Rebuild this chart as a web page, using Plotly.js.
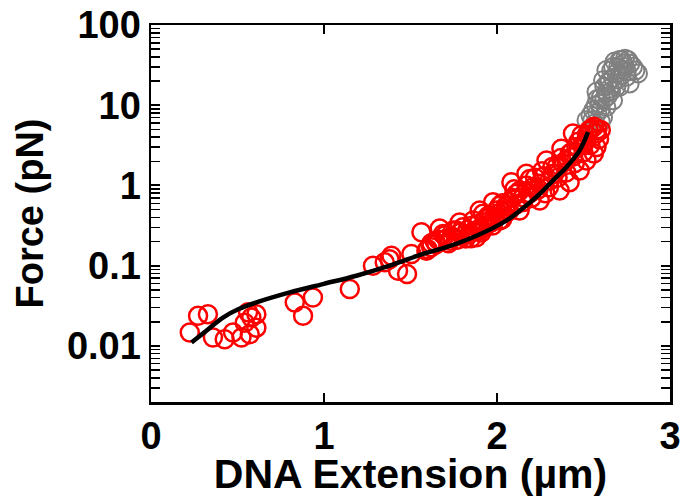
<!DOCTYPE html>
<html>
<head>
<meta charset="utf-8">
<script src="https://cdn.plot.ly/plotly-3.0.1.min.js"></script>
<style>html,body{margin:0;padding:0;background:#fff;}#chart{width:683px;height:497px;}</style>
</head>
<body>
<div id="chart"></div>
<script>
// Red measured points (DNA extension in µm, force in pN)
const redX = [0.224,0.272,0.329,0.358,0.426,0.474,0.523,0.571,0.580,0.561,0.609,0.542,0.609,0.831,0.936,0.879,1.149,
  1.283,1.351,1.390,1.428,1.480,1.505,1.563,1.592,1.650,1.688,1.727,1.765,1.803,1.842,1.881,1.919,1.958,1.996,
  1.379,1.669,1.709,1.784,1.819,1.860,1.900,1.935,1.975,2.015,1.619,1.640,
  1.900,1.977,2.083,2.170,2.286,2.372,2.439,2.546,2.575,2.517,2.478,2.420,2.362,2.247,2.131,2.015,1.900,
  2.054,2.150,2.247,2.324,2.401,2.459,2.517,2.112,2.208,2.305,2.343,2.420,2.488,2.575,1.958,1.862,1.746,
  2.030,2.070,2.100,2.190,2.260,2.380,2.440,2.500,2.530,2.560,2.600,2.190,2.280,
  1.600,1.620,1.660,1.700,1.720,1.740,1.770,1.790,1.810,1.830,1.850,1.870,1.890,1.910,1.930,1.950,1.970,1.990,
  2.010,2.030,2.050,2.070,2.090,2.110,2.130,2.150,2.170,2.200,2.220,2.240,2.270,2.300,2.320,2.350,2.370,2.400,
  2.430,2.450,2.470,2.500,2.520,2.540,2.580,2.590,2.560];
const redY = [0.0147,0.0237,0.0249,0.0127,0.0121,0.0147,0.0127,0.014,0.0226,0.0263,0.0249,0.0195,0.0169,0.0348,0.0402,0.0237,0.0512,
  0.100,0.110,0.133,0.0866,0.0787,0.140,0.261,0.154,0.187,0.249,0.205,0.274,0.301,0.249,0.226,0.443,0.365,0.487,
  0.120,0.290,0.218,0.345,0.218,0.316,0.290,0.387,0.316,0.560,0.170,0.200,
  0.487,0.618,1.10,1.40,2.05,2.87,4.43,5.10,3.01,2.05,1.54,1.10,0.866,0.650,0.487,0.365,0.274,
  0.487,0.714,1.05,1.40,2.05,3.01,3.65,0.787,0.953,1.155,1.69,2.49,4.22,4.43,0.402,0.365,0.274,
  0.600,0.620,0.900,1.20,1.50,1.90,2.30,3.20,4.80,5.40,4.90,0.800,0.800,
  0.160,0.190,0.210,0.240,0.190,0.230,0.210,0.260,0.240,0.280,0.220,0.270,0.330,0.260,0.300,0.420,0.350,0.400,
  0.450,0.380,0.550,0.480,0.700,0.580,0.850,0.620,1.00,0.700,1.25,0.900,1.30,0.950,1.70,1.25,2.20,1.45,
  2.60,1.90,3.50,2.60,4.30,3.20,5.00,3.80,2.50];

// Gray points at high force
const grayX = [2.517,2.555,2.594,2.575,2.632,2.651,2.671,2.709,2.757,2.786,2.815,2.748,2.709,2.671,2.632,2.613,2.565,
  2.690,2.728,2.632,2.613,2.767,2.730,2.690,2.650,2.600,2.580,2.740,
  2.540,2.570,2.600,2.620,2.640,2.660,2.620,2.670,2.700,2.720,2.750,2.770,2.700,2.680,2.800,2.740,2.720,2.660,2.640,2.580,2.550,2.600];
const grayY = [6.5,8.66,10.5,14.7,14.0,20.5,30.1,36.5,36.5,30.1,24.9,22.6,17.0,11.5,9.5,7.1,5.9,
  17.0,27.4,27.4,20.5,18.7,33.0,25.0,16.0,12.5,8.0,30.0,
  7.5,10.0,9.0,12.0,13.0,15.0,17.0,22.0,21.0,24.0,26.0,33.0,30.0,35.0,27.0,38.0,37.0,27.0,19.0,12.0,6.5,6.2];

// Fit curve
const fitX = [0.234,0.320,0.416,0.510,0.609,0.802,0.994,1.187,1.380,1.572,1.707,1.861,2.054,2.150,2.247,2.330,2.401,2.478,2.526];
const fitY = [0.011,0.0155,0.0226,0.029,0.0348,0.0464,0.059,0.075,0.100,0.140,0.170,0.226,0.365,0.52,0.787,1.19,1.69,2.74,4.64];

const xTicks = [0,1,2,3];

const traces = [
  {x: grayX, y: grayY, type:'scatter', mode:'markers',
   marker:{symbol:'circle-open', size:18, color:'rgb(128,128,128)', line:{width:2, color:'rgb(128,128,128)'}}},
  {x: redX, y: redY, type:'scatter', mode:'markers',
   marker:{symbol:'circle-open', size:18, color:'rgb(255,0,0)', line:{width:2.5, color:'rgb(255,0,0)'}}},
  {x: fitX, y: fitY, type:'scatter', mode:'lines',
   line:{color:'black', width:4.5, shape:'spline', smoothing:1}}
];

const fam = '"Liberation Sans", Arial, sans-serif';
const fnt = {family:fam, size:38, color:'black', weight:'bold'};
const xTitleFont = {family:fam, size:41, color:'black', weight:'bold'};

const layout = {
  width:683, height:497,
  margin:{l:151, r:13, t:25, b:95, pad:0},
  paper_bgcolor:'white', plot_bgcolor:'white',
  showlegend:false,
  font: fnt,
  xaxis:{
    range:[0,3], tickmode:'array', tickvals:xTicks, ticktext:xTicks.map(String),
    ticks:'inside', ticklen:9, tickwidth:2, tickcolor:'black',
    showline:true, linewidth:2.5, linecolor:'black', mirror:'ticks',
    showgrid:false, zeroline:false, tickfont:fnt, ticklabelstandoff:-1,
    title:{text:'DNA Extension (µm)', font:xTitleFont, standoff:6}
  },
  yaxis:{
    type:'log', range:[Math.log10(0.002), 2], tickmode:'linear', tick0:0, dtick:1,
    ticks:'inside', ticklen:9, tickwidth:2, tickcolor:'black',
    minor:{ticks:'inside', ticklen:9, tickwidth:1.5, tickcolor:'black', dtick:'D1', showgrid:false},
    showline:true, linewidth:2.5, linecolor:'black', mirror:'ticks',
    showgrid:false, zeroline:false, tickfont:fnt, exponentformat:'none',
    title:{text:'Force (pN)', font:fnt, standoff:12}
  }
};

Plotly.newPlot('chart', traces, layout, {displayModeBar:false, staticPlot:true});
</script>
</body>
</html>
